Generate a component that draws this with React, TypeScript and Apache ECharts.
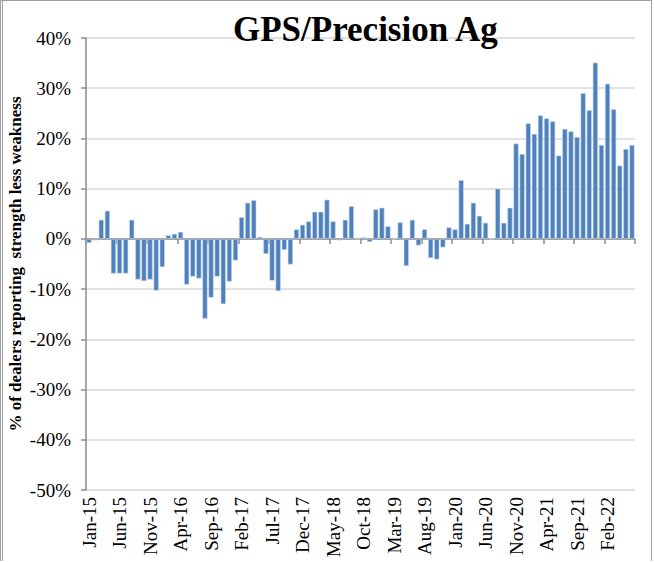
import React, { useEffect, useRef } from "react";
import * as echarts from "echarts";

const MONTHS = ["Jan", "Feb", "Mar", "Apr", "May", "Jun", "Jul", "Aug", "Sep", "Oct", "Nov", "Dec"];
const YEARS = ["15", "16", "17", "18", "19", "20", "21", "22"];
const LAST_MONTH_2022 = 6;

const categories: string[] = [];
YEARS.forEach((y, yi) => {
  const n = yi === YEARS.length - 1 ? LAST_MONTH_2022 : 12;
  for (let m = 0; m < n; m++) categories.push(`${MONTHS[m]}-${y}`);
});

const values2015 = [-0.8, -0.3, 3.8, 5.6, -6.9, -6.9, -6.9, 3.8, -8.1, -8.4, -8.1, -10.3];
const values2016 = [-5.6, 0.7, 1.0, 1.4, -9.1, -7.5, -7.9, -15.9, -11.7, -7.5, -13.0, -8.5];
const values2017 = [-4.3, 4.3, 7.2, 7.7, 0.4, -3.0, -8.3, -10.4, -2.2, -5.1, 1.9, 2.8];
const values2018 = [3.5, 5.4, 5.4, 7.8, 3.5, -0.3, 3.8, 6.5, 0, 0.3, -0.6, 5.9];
const values2019 = [6.2, 2.5, 0, 3.3, -5.4, 3.8, -1.3, 1.9, -3.8, -4.1, -1.7, 2.3];
const values2020 = [1.9, 11.7, 3.0, 7.2, 4.6, 3.2, 0, 10.0, 3.2, 6.2, 19.0, 16.9];
const values2021 = [23.0, 20.9, 24.6, 24.0, 23.4, 16.6, 21.9, 21.4, 20.3, 29.0, 25.6, 35.1];
const values2022 = [18.7, 30.9, 25.8, 14.6, 17.9, 18.7];

const values = [
  ...values2015, ...values2016, ...values2017, ...values2018,
  ...values2019, ...values2020, ...values2021, ...values2022,
];

const TITLE = "GPS/Precision Ag";
const Y_NAME = "% of dealers reporting  strength less weakness";

const SERIF = "'Liberation Serif', 'Times New Roman', serif";

export default function App() {
  const ref = useRef<HTMLDivElement>(null);
  useEffect(() => {
    document.body.style.margin = "0";
    const chart = echarts.init(ref.current!, undefined, { renderer: "svg" });
    chart.setOption({
      animation: false,
      backgroundColor: "#ffffff",
      title: {
        text: TITLE,
        left: 228,
        top: 7,
        textStyle: { fontFamily: SERIF, fontWeight: "bold", fontSize: 35, color: "#000" },
      },
      grid: {
        left: 86,
        right: 19,
        top: 38,
        bottom: 73,
        containLabel: false,
        outerBoundsMode: "none",
      },
      xAxis: [
        {
          type: "category",
          data: categories,
          position: "bottom",
          axisLine: { show: false, onZero: false },
          axisTick: { show: false },
          axisLabel: {
            rotate: 90,
            interval: 4,
            margin: 7,
            fontFamily: SERIF,
            fontSize: 19,
            color: "#000",
          },
          splitLine: { show: false },
        },
        {
          type: "category",
          data: categories,
          position: "bottom",
          axisLine: { show: true, onZero: true, lineStyle: { color: "#8c8c8c", width: 1.5 } },
          axisTick: { show: true, interval: 4, length: 5, lineStyle: { color: "#8c8c8c", width: 1.5 } },
          axisLabel: { show: false },
          splitLine: { show: false },
        },
      ],
      yAxis: {
        type: "value",
        min: -50,
        max: 40,
        interval: 10,
        name: Y_NAME,
        nameLocation: "middle",
        nameRotate: 90,
        nameGap: 62,
        nameMoveOverlap: false,
        nameTextStyle: { fontFamily: SERIF, fontWeight: "bold", fontSize: 17, color: "#000" },
        axisLine: { show: true, lineStyle: { color: "#8c8c8c", width: 1.5 } },
        axisTick: { show: true, length: 5, lineStyle: { color: "#8c8c8c", width: 1.5 } },
        axisLabel: {
          formatter: "{value}%",
          margin: 15,
          fontFamily: SERIF,
          fontSize: 19,
          color: "#000",
        },
        splitLine: { show: true, lineStyle: { color: "#d9d9d9", width: 1.5 } },
      },
      series: [
        {
          type: "bar",
          xAxisIndex: 0,
          data: values,
          barCategoryGap: "16%",
          itemStyle: { color: "#4f81bd", borderColor: "#c6d6ec", borderWidth: 0.6 },
        },
      ],
    });
    return () => chart.dispose();
  }, []);
  return (
    <div style={{ position: "absolute", left: 0, top: 0, width: 654, height: 563 }}>
      <div ref={ref} style={{ position: "absolute", left: 0, top: 0, width: 654, height: 563 }} />
      <div
        style={{
          position: "absolute",
          left: 0,
          top: 0,
          width: 652,
          height: 561,
          borderTop: "1px solid #a0a0a0",
          borderLeft: "3px double #a0a0a0",
          borderRight: "1px solid #a0a0a0",
          boxSizing: "border-box",
          pointerEvents: "none",
        }}
      />
    </div>
  );
}
